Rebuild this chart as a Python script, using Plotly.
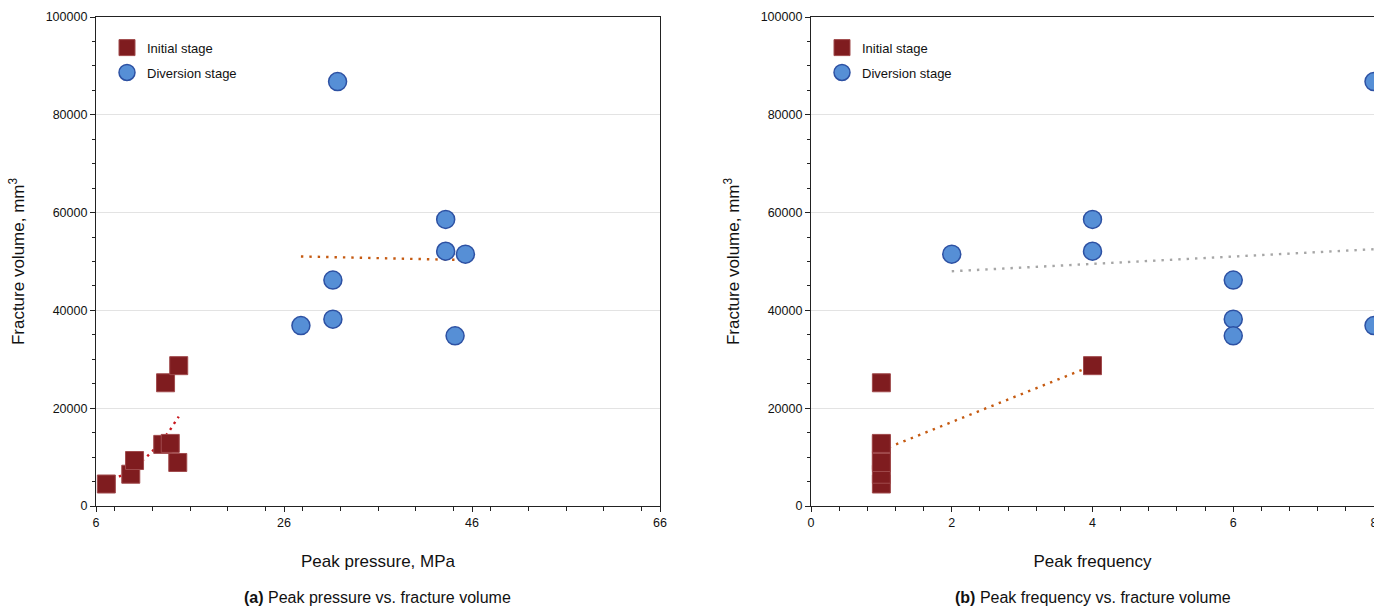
import numpy as np
import plotly.graph_objects as go

# ---------------- data ----------------
init_pressure = [7.1, 9.7, 10.1, 13.1, 13.9, 14.7, 13.4, 14.8]
init_volume = [4500, 6500, 9300, 12600, 12800, 8900, 25200, 28700]
init_freq = [1, 1, 1, 1, 1, 1, 1, 4]

div_pressure = [31.7, 43.2, 43.2, 45.3, 31.2, 31.2, 27.8, 44.2]
div_volume = [86800, 58600, 52100, 51500, 46200, 38200, 36900, 34800]
div_freq = [8, 4, 4, 2, 6, 6, 8, 6]

pressure_ticks = [6, 26, 46, 66]
freq_ticks = [0, 2, 4, 6, 8]
volume_ticks = [0, 20000, 40000, 60000, 80000, 100000]

# ---------------- styles ----------------
FONT = "Arial, Liberation Sans, sans-serif"
SQ_FILL, SQ_LINE = "#7F1C1F", "#A04A4C"
CI_FILL, CI_LINE = "#568FD6", "#2D51A3"
RED_TREND, ORANGE_TREND, GRAY_TREND = "#C8161C", "#C55A11", "#A6A6A6"
AXIS_C = "#222222"
GRID_C = "#E3E3E3"

W, H = 1374, 607
left_px = (96, 660)
right_px = (811, 1374)
top_px, bottom_px = 17, 506

fig = go.Figure()

def lin_fit(x, y):
    k, b = np.polyfit(np.asarray(x, float), np.asarray(y, float), 1)
    return k, b

# (a) initial: exponential trend
xa = np.asarray(init_pressure, float)
ka, ba = np.polyfit(xa, np.log(np.asarray(init_volume, float)), 1)
xs = np.linspace(xa.min(), xa.max(), 60)
fig.add_trace(go.Scatter(x=xs, y=np.exp(ba + ka * xs), mode="lines",
                         line=dict(color=RED_TREND, width=2.4, dash="2.4px,4.6px"),
                         showlegend=False, hoverinfo="skip", xaxis="x", yaxis="y"))
# (a) diversion: linear trend
k, b = lin_fit(div_pressure, div_volume)
xs = np.array([min(div_pressure), max(div_pressure)])
fig.add_trace(go.Scatter(x=xs, y=k * xs + b, mode="lines",
                         line=dict(color=ORANGE_TREND, width=2.4, dash="2.4px,6px"),
                         showlegend=False, hoverinfo="skip", xaxis="x", yaxis="y"))
# (b) initial: linear trend
k, b = lin_fit(init_freq, init_volume)
xs = np.array([min(init_freq), max(init_freq)])
fig.add_trace(go.Scatter(x=xs, y=k * xs + b, mode="lines",
                         line=dict(color=ORANGE_TREND, width=2.4, dash="2.4px,5.5px"),
                         showlegend=False, hoverinfo="skip", xaxis="x2", yaxis="y2"))
# (b) diversion: linear trend
k, b = lin_fit(div_freq, div_volume)
xs = np.array([min(div_freq), max(div_freq)])
fig.add_trace(go.Scatter(x=xs, y=k * xs + b, mode="lines",
                         line=dict(color=GRAY_TREND, width=2.4, dash="2.4px,6px"),
                         showlegend=False, hoverinfo="skip", xaxis="x2", yaxis="y2"))

# ---- markers ----
sq = dict(symbol="square", size=18, color=SQ_FILL, line=dict(color=SQ_LINE, width=1))
ci = dict(symbol="circle", size=18, color=CI_FILL, line=dict(color=CI_LINE, width=1.5))

fig.add_trace(go.Scatter(x=init_pressure, y=init_volume, mode="markers", marker=sq,
                         name="Initial stage", legend="legend", legendgroup="a1",
                         xaxis="x", yaxis="y"))
fig.add_trace(go.Scatter(x=div_pressure, y=div_volume, mode="markers", marker=ci,
                         name="Diversion stage", legend="legend", legendgroup="a2",
                         xaxis="x", yaxis="y"))
fig.add_trace(go.Scatter(x=init_freq, y=init_volume, mode="markers", marker=sq,
                         name="Initial stage", legend="legend2", legendgroup="b1",
                         xaxis="x2", yaxis="y2"))
fig.add_trace(go.Scatter(x=div_freq, y=div_volume, mode="markers", marker=ci,
                         name="Diversion stage", legend="legend2", legendgroup="b2",
                         xaxis="x2", yaxis="y2"))

# ---- axes ----
tickfont = dict(family=FONT, size=12.5, color="#111111")
titlefont = dict(family=FONT, size=17, color="#111111")

def xaxis_common(rng, ticks, minor_dtick, domain, title, mirror):
    return dict(domain=domain, range=rng, tickmode="array", tickvals=ticks,
                ticktext=[str(t) for t in ticks], automargin=False,
                ticklabeloverflow="allow",
                showline=True, linecolor=AXIS_C, linewidth=1.2, mirror=mirror,
                ticks="outside", ticklen=5, tickwidth=1.2, tickcolor=AXIS_C,
                minor=dict(dtick=minor_dtick, ticks="outside", ticklen=4,
                           tickwidth=1, tickcolor=AXIS_C, showgrid=False),
                showgrid=False, zeroline=False, tickfont=tickfont,
                title=dict(text=title, font=titlefont, standoff=26),
                fixedrange=True)

def yaxis_common(anchor, mirror):
    return dict(domain=[0, 1], range=[0, 100000], anchor=anchor, automargin=False,
                tickmode="array", tickvals=volume_ticks,
                ticktext=[str(t) for t in volume_ticks],
                showline=True, linecolor=AXIS_C, linewidth=1.2, mirror=mirror,
                ticks="outside", ticklen=5, tickwidth=1.2, tickcolor=AXIS_C,
                minor=dict(dtick=5000, ticks="outside", ticklen=3,
                           tickwidth=1, tickcolor=AXIS_C, showgrid=False),
                showgrid=True, gridcolor=GRID_C, gridwidth=1, zeroline=False,
                tickfont=tickfont,
                title=dict(text="Fracture volume, mm<sup>3</sup>", font=titlefont, standoff=16),
                fixedrange=True)

dom_a = [left_px[0] / W, left_px[1] / W]
dom_b = [right_px[0] / W, right_px[1] / W]

fig.update_layout(
    width=W, height=H, autosize=False,
    margin=dict(l=0, r=0, t=top_px, b=H - bottom_px, pad=0, autoexpand=False),
    paper_bgcolor="white", plot_bgcolor="white",
    font=dict(family=FONT, color="#111111"),
    xaxis=xaxis_common([6, 66], pressure_ticks, 4, dom_a, "Peak pressure, MPa", True),
    yaxis=yaxis_common("x", True),
    xaxis2=dict(xaxis_common([0, 8], freq_ticks, 0.4, dom_b, "Peak frequency", True), anchor="y2"),
    yaxis2=yaxis_common("x2", False),
    legend=dict(x=(left_px[0] + 11) / W, y=0.968, xanchor="left", yanchor="top",
                bgcolor="rgba(0,0,0,0)", font=dict(family=FONT, size=13, color="#111111"),
                tracegroupgap=5, itemsizing="trace"),
    legend2=dict(x=(right_px[0] + 11) / W, y=0.968, xanchor="left", yanchor="top",
                 bgcolor="rgba(0,0,0,0)", font=dict(family=FONT, size=13, color="#111111"),
                 tracegroupgap=5, itemsizing="trace"),
    showlegend=True,
)

sub_y = -(597 - bottom_px) / (bottom_px - top_px)
fig.add_annotation(text="<b>(a)</b> Peak pressure vs. fracture volume", xref="paper", yref="paper",
                   x=(left_px[0] + left_px[1]) / 2 / W, y=sub_y, xanchor="center", yanchor="middle",
                   showarrow=False, font=dict(family=FONT, size=16, color="#111111"))
fig.add_annotation(text="<b>(b)</b> Peak frequency vs. fracture volume", xref="paper", yref="paper",
                   x=(right_px[0] + right_px[1]) / 2 / W, y=sub_y, xanchor="center", yanchor="middle",
                   showarrow=False, font=dict(family=FONT, size=16, color="#111111"))

fig.write_html("out.html", config={"displayModeBar": False, "responsive": False},
               post_script="document.documentElement.style.margin='0';document.documentElement.style.overflow='hidden';document.body.style.margin='0';document.body.style.overflow='hidden';")
